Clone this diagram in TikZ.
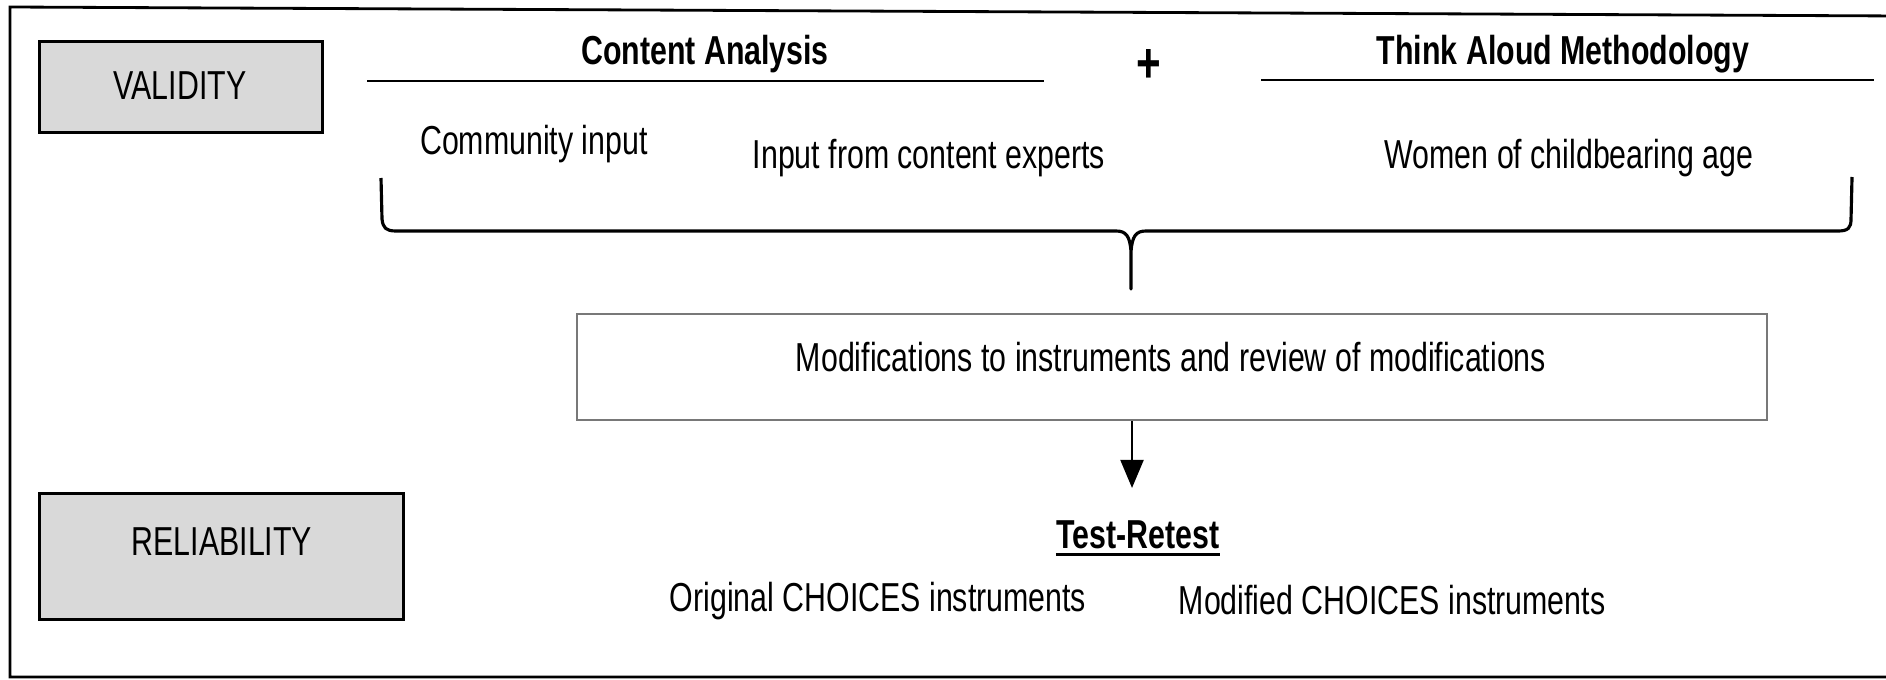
\documentclass[tikz,border=0pt]{standalone}
\usepackage{fontspec}
\setmainfont{Liberation Sans}[FakeStretch=0.75]
\usepackage{tikz}
\usetikzlibrary{arrows.meta, positioning}
\definecolor{boxgrey}{RGB}{217,217,217}
\definecolor{modgrey}{RGB}{120,120,120}

\begin{document}
\begin{tikzpicture}[
  x=0.01cm, y=-0.01cm,
  every node/.style={font=\fontsize{11.5}{13}\selectfont},
  dimbox/.style={rectangle, draw=black, fill=boxgrey, line width=0.85pt, inner sep=0pt},
  modbox/.style={rectangle, draw=modgrey, fill=white, line width=0.6pt, inner sep=0pt},
  txt/.style={inner sep=0pt, anchor=base},
  head/.style={txt, font=\fontsize{11.5}{13}\selectfont\bfseries},
  rulel/.style={line width=0.8pt},
  frame/.style={line width=0.8pt},
  brace/.style={line width=0.9pt, line join=round},
  flow/.style={-{Triangle[length=8pt, width=6.5pt]}, line width=0.8pt},
]
\useasboundingbox (0,0) rectangle (1886,679);

% Outer frame
\draw[frame] (1900,16) -- (10,7) -- (10,677) -- (1900,677);

% Dimension boxes
\node[dimbox, minimum width=2.82cm, minimum height=0.90cm] (validity) at (181,87) {};
\node[txt] (validitytxt) at (180,100) {VALIDITY};
\node[dimbox, minimum width=3.63cm, minimum height=1.25cm] (reliability) at (221.5,556.5) {};
\node[txt] (reliabilitytxt) at (222,555) {RELIABILITY};

% Validity methods
\node[head] (content) at (705,65) {Content Analysis};
\node[head] (thinkaloud) at (1563,65) {Think Aloud Methodology};
\node[font=\fontsize{16}{18}\selectfont\bfseries, inner sep=0pt] (plus) at (1149,66) {+};
\draw[rulel] (367,81) -- (1044,81);
\draw[rulel] (1261,80) -- (1874,80);

% Sources of input
\node[txt] (community) at (534,155) {Community input};
\node[txt] (experts) at (929,169) {Input from content experts};
\node[txt] (women) at (1569,169) {Women of childbearing age};

% Brace
\draw[brace] (381,178) -- (382,219) .. controls (383,228) and (386,231) .. (396,231)
  -- (1116,231) .. controls (1126,231) and (1130,236) .. (1131,252) -- (1131,289)
  -- (1131,252) .. controls (1132,236) and (1136,231) .. (1146,231)
  -- (1838,231) .. controls (1848,231) and (1851,228) .. (1851,219) -- (1852,177);

% Modifications
\node[modbox, minimum width=11.90cm, minimum height=1.06cm] (mods) at (1172,367) {};
\node[txt] (modstxt) at (1171,371) {Modifications to instruments and review of modifications};
\coordinate (arrowend) at (1132,488);
\draw[flow] (mods.south -| arrowend) -- (arrowend);

% Reliability
\node[head] (retest) at (1138,548) {Test-Retest};
\draw[rulel] ([yshift=-1.8pt]retest.base west) -- ([yshift=-1.8pt]retest.base east);
\node[txt] (original) at (878,611) {Original CHOICES instruments};
\node[txt] (modified) at (1392,614) {Modified CHOICES instruments};

\end{tikzpicture}
\end{document}
